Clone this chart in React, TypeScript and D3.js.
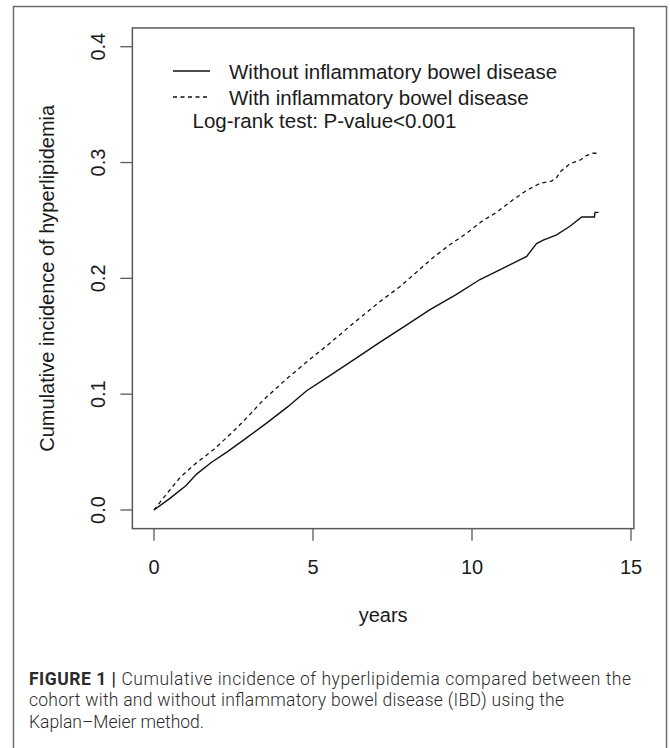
import React, { useRef, useEffect } from 'react';
import * as d3 from 'd3';

// Kaplan-Meier cumulative incidence
const withoutTime = [0, 0.5, 1.0, 1.34, 1.8, 2.29, 2.9, 3.54, 4.2, 4.8, 5.53, 6.3, 7.11, 7.9, 8.68, 9.5, 10.25, 11.0, 11.72, 12.03, 12.24, 12.66, 13.08, 13.45, 13.85, 13.87, 13.98];
const withoutIncidence = [0, 0.010, 0.021, 0.031, 0.041, 0.050, 0.062, 0.075, 0.089, 0.103, 0.116, 0.130, 0.145, 0.159, 0.173, 0.186, 0.199, 0.209, 0.219, 0.230, 0.233, 0.2375, 0.245, 0.253, 0.253, 0.257, 0.257];

const withTime = [0, 0.4, 0.82, 1.3, 1.87, 2.5, 3.0, 3.44, 4.2, 4.9, 5.53, 6.3, 7.11, 7.74, 8.2, 8.78, 9.3, 9.83, 10.3, 10.77, 11.3, 11.72, 12.14, 12.5, 12.66, 12.77, 13.08, 13.4, 13.6, 13.8, 13.98];
const withIncidence = [0, 0.014, 0.028, 0.040, 0.052, 0.068, 0.082, 0.095, 0.114, 0.130, 0.144, 0.162, 0.180, 0.193, 0.204, 0.218, 0.229, 0.239, 0.249, 0.257, 0.268, 0.276, 0.282, 0.284, 0.287, 0.292, 0.299, 0.302, 0.306, 0.308, 0.308];

const xTicks = [0, 5, 10, 15];
const yTicks = [0, 0.1, 0.2, 0.3, 0.4];
const seriesLabels = ['Without inflammatory bowel disease', 'With inflammatory bowel disease'];
const testLabel = 'Log-rank test: P-value<0.001';
const captionLines = [
  'Cumulative incidence of hyperlipidemia compared between the',
  'cohort with and without inflammatory bowel disease (IBD) using the',
  'Kaplan\u2013Meier method.',
];
const captionWidths = [602, 535, 175];

const W = 670;
const H = 748;
const axisFont = '"Liberation Sans", Arial, sans-serif';
const axisGray = '#5a5a5a';

const App = () => {
  const svgRef = useRef<SVGSVGElement>(null);

  useEffect(() => {
    const svg = d3.select(svgRef.current);
    svg.selectAll('*').remove();

    const x = d3.scaleLinear().domain([0, 15]).range([154, 631]);
    const y = d3.scaleLinear().domain([0, 0.4]).range([510, 46.7]);

    const boxL = x(-0.68), boxR = x(15.09);
    const boxT = y(0.4162), boxB = y(-0.0161);

    svg.append('rect').attr('width', W).attr('height', H).attr('fill', '#fff');

    // outer figure frame
    svg.append('path')
      .attr('d', `M13.5,${H + 5} V6.5 H666.5 V${H + 5}`)
      .attr('fill', 'none').attr('stroke', '#6e6e6e').attr('stroke-width', 1.5);

    // plot box
    svg.append('rect')
      .attr('x', boxL).attr('y', boxT)
      .attr('width', boxR - boxL).attr('height', boxB - boxT)
      .attr('fill', 'none').attr('stroke', axisGray).attr('stroke-width', 1.5);

    // y axis
    const yAxis = svg.append('g');
    yTicks.forEach(t => {
      yAxis.append('line')
        .attr('x1', boxL - 12).attr('x2', boxL)
        .attr('y1', y(t)).attr('y2', y(t))
        .attr('stroke', axisGray).attr('stroke-width', 1.3);
      yAxis.append('text')
        .attr('transform', `translate(105,${y(t)}) rotate(-90)`)
        .attr('text-anchor', 'middle')
        .attr('font-family', axisFont).attr('font-size', 20).attr('fill', '#1a1a1a')
        .text(d3.format('.1f')(t));
    });

    // x axis
    const xAxis = svg.append('g');
    xTicks.forEach(t => {
      xAxis.append('line')
        .attr('x1', x(t)).attr('x2', x(t))
        .attr('y1', boxB).attr('y2', boxB + 12)
        .attr('stroke', axisGray).attr('stroke-width', 1.3);
      xAxis.append('text')
        .attr('x', x(t)).attr('y', 574)
        .attr('text-anchor', 'middle')
        .attr('font-family', axisFont).attr('font-size', 20).attr('fill', '#1a1a1a')
        .text(t);
    });

    svg.append('text')
      .attr('x', (boxL + boxR) / 2).attr('y', 622)
      .attr('text-anchor', 'middle')
      .attr('font-family', axisFont).attr('font-size', 20).attr('fill', '#1a1a1a')
      .text('years');

    svg.append('text')
      .attr('transform', `translate(54,${(boxT + boxB) / 2}) rotate(-90)`)
      .attr('text-anchor', 'middle')
      .attr('font-family', axisFont).attr('font-size', 20).attr('fill', '#1a1a1a')
      .text('Cumulative incidence of hyperlipidemia');

    // curves
    const line = d3.line<number[]>()
      .x(d => x(d[0]))
      .y(d => y(d[1]));

    const solid = withoutTime.map((t, i) => [t, withoutIncidence[i]]);
    const dashed = withTime.map((t, i) => [t, withIncidence[i]]);

    svg.append('path')
      .datum(solid)
      .attr('fill', 'none').attr('stroke', '#111').attr('stroke-width', 1.4)
      .attr('d', line as any);

    svg.append('path')
      .datum(dashed)
      .attr('fill', 'none').attr('stroke', '#111').attr('stroke-width', 1.3)
      .attr('stroke-dasharray', '4,3.5')
      .attr('d', line as any);

    // legend
    const leg = svg.append('g');
    const legY = [71, 97];
    legY.forEach((ly, i) => {
      leg.append('line')
        .attr('x1', 173).attr('x2', 210).attr('y1', ly).attr('y2', ly)
        .attr('stroke', '#111').attr('stroke-width', 1.3)
        .attr('stroke-dasharray', i === 1 ? '4,3.5' : null);
      leg.append('text')
        .attr('x', 229).attr('y', ly + 7.5)
        .attr('font-family', axisFont).attr('font-size', 20.5).attr('fill', '#1a1a1a')
        .text(seriesLabels[i]);
    });
    leg.append('text')
      .attr('x', 192.5).attr('y', 128)
      .attr('font-family', axisFont).attr('font-size', 20.5).attr('fill', '#1a1a1a')
      .text(testLabel);

    // caption
    const cap = svg.append('g')
      .attr('font-family', 'Roboto, "Liberation Sans", sans-serif')
      .attr('font-size', 17.5).attr('fill', '#2b2b2b');
    captionLines.forEach((l, i) => {
      const t = cap.append('text')
        .attr('x', 29).attr('y', 685 + i * 21.3)
        .attr('textLength', captionWidths[i])
        .attr('lengthAdjust', 'spacing');
      if (i === 0) {
        t.append('tspan').attr('font-weight', 700).text('FIGURE 1 | ');
      }
      t.append('tspan').attr('font-weight', 300).text(l);
    });
  }, []);

  return (
    <svg ref={svgRef} width={W} height={H}
      style={{ position: 'absolute', left: 0, top: 0, display: 'block' }} />
  );
};

export default App;
